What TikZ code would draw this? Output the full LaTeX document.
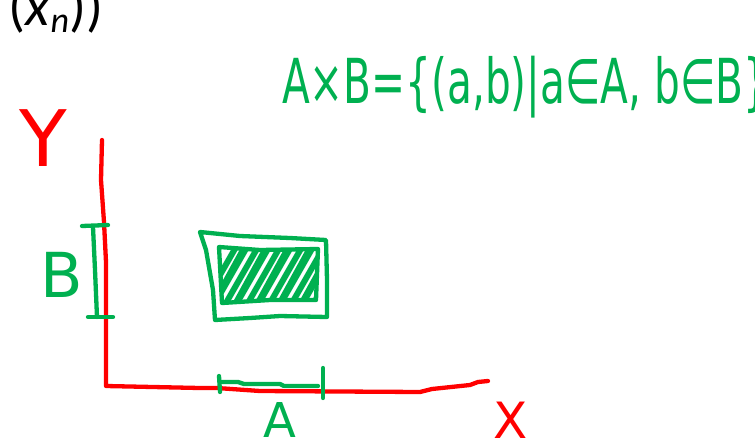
\documentclass[tikz,border=0pt]{standalone}
\usepackage{fontspec}
\setmainfont{DejaVu Sans}
\newfontfamily\carlito{Carlito}
\definecolor{inkred}{RGB}{255,0,0}
\definecolor{inkgreen}{RGB}{0,176,80}
\begin{document}
\begin{tikzpicture}[x=1pt,y=-1pt,
  redink/.style={draw=inkred,line width=4.3pt,line cap=round,line join=round},
  greenink/.style={draw=inkgreen,line width=4.3pt,line cap=round,line join=round},
  hatch/.style={draw=inkgreen,line width=6pt,line cap=round},
  lbl/.style={inner sep=0pt,outer sep=0pt}]
\useasboundingbox (0,0) rectangle (755,445);

% top-left fragment of text
\node[lbl,anchor=base west,font={\carlito\fontsize{56}{60}\selectfont}] (frag) at (9,25)
  {(\textit{x}\raisebox{-7pt}{\fontsize{36}{40}\selectfont\textit{n}}))};

% formula
\node[lbl,anchor=base west,text=inkgreen] (formula) at (282,103)
  {\scalebox{0.655}[1]{\fontsize{62}{66}\selectfont A×B=\{(a,b)|a∈A, b∈B\}}};

% axes
\coordinate (ytop) at (102,140);
\coordinate (origin) at (106,386);
\coordinate (xend) at (488,381);
\draw[redink] (ytop) -- (101,180) -- (104,222) -- (106,262) -- (origin)
  -- (200,388) -- (217,388) -- (260,391) -- (420,392) -- (432,389)
  -- (470,385) -- (478,382) -- (xend);

% axis labels
\node[lbl,text=inkred] (ylabel) at (43,138) {\fontsize{78}{80}\selectfont Y};
\node[lbl,text=inkred] (xlabel) at (511,420) {\fontsize{50}{54}\selectfont X};
\node[lbl,text=inkgreen] (blabel) at (62,275) {\fontsize{62}{64}\selectfont B};
\node[lbl,text=inkgreen] (alabel) at (280,420) {\fontsize{48}{52}\selectfont A};

% interval B on y axis
\draw[greenink] (82,226) -- (108,225);
\draw[greenink] (93,227) -- (95,270) -- (97,317);
\draw[greenink] (88,317) -- (113,317);

% interval A on x axis
\draw[greenink] (219,376) -- (220,392);
\draw[greenink] (220,382) -- (238,382) -- (244,384) -- (280,384) -- (284,386) -- (318,386);
\draw[greenink] (323,368) -- (323,398);

% product rectangle
\draw[greenink] (200,232) -- (240,236) -- (290,238) -- (326,240) -- (327,280)
  -- (327,317) -- (280,316) -- (250,318) -- (215,320) -- (213,290) -- (206,250) -- cycle;
\draw[greenink] (219,247) -- (260,250) -- (318,249) -- (316,300) -- (270,300) -- (222,303) -- cycle;
\begin{scope}
  \clip (219,247) -- (260,250) -- (318,249) -- (316,300) -- (270,300) -- (222,303) -- cycle;
  \foreach \s in {0,11,...,132} {
    \draw[hatch] (200+\s,310) -- (240+\s,240);
  }
  \foreach \s in {6,28,...,120} {
    \draw[hatch,line width=3pt] (205+\s,305) -- (238+\s,245);
  }
\end{scope}
\end{tikzpicture}
\end{document}
